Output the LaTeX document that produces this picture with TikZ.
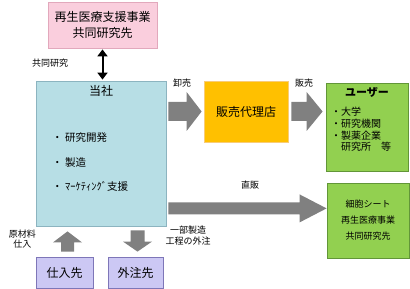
\documentclass[tikz,border=0pt]{standalone}
\usepackage{fontspec}
\setmainfont{Noto Sans CJK JP}
\usetikzlibrary{arrows.meta,calc,positioning}

\definecolor{pinkfill}{RGB}{250,206,221}
\definecolor{pinkline}{RGB}{226,168,188}
\definecolor{tealfill}{RGB}{183,222,229}
\definecolor{tealline}{RGB}{140,180,192}
\definecolor{orangefill}{RGB}{255,192,0}
\definecolor{orangeline}{RGB}{248,204,120}
\definecolor{greenfill}{RGB}{146,208,80}
\definecolor{greenline}{RGB}{98,150,56}
\definecolor{lavfill}{RGB}{204,200,244}
\definecolor{lavline}{RGB}{126,118,184}
\definecolor{arrowgray}{RGB}{128,128,128}

% fat block arrow between two named coordinates:
% #1 start, #2 tip, #3 half shaft, #4 half head, #5 head length
\newcommand{\fatarrow}[5]{%
  \coordinate (fa-base) at ($(#2)!#5!(#1)$);
  \fill[arrowgray]
    ($(#1)!#3!90:(#2)$) -- ($(fa-base)!#3!90:(#2)$) -- ($(fa-base)!#4!90:(#2)$)
    -- (#2) -- ($(fa-base)!#4!-90:(#2)$) -- ($(fa-base)!#3!-90:(#2)$)
    -- ($(#1)!#3!-90:(#2)$) -- cycle;}

\begin{document}
\begin{tikzpicture}[
  x=1pt,
  y=1pt,
  line/.style={line width=0.8pt},
  box/.style={line,draw,inner sep=0pt,align=center},
  big/.style={font=\fontsize{12}{15.5}\selectfont},
  mid/.style={font=\fontsize{10}{11.6}\selectfont},
  small/.style={font=\fontsize{9}{11}\selectfont},
  label/.style={small,inner sep=0pt,align=center}
]
\useasboundingbox (0,0) rectangle (410,289);

% Boxes
\node[box,big,fill=pinkfill,draw=pinkline,minimum width=109,minimum height=46] (collab) at (102.5,264)
  {再生医療支援事業\\共同研究先};
\node[box,fill=tealfill,draw=tealline,minimum width=130,minimum height=145] (tosha) at (101,135.5) {};
\node[box,big,fill=orangefill,draw=orangeline,minimum width=84,minimum height=61] (agent) at (246,177.5)
  {販売代理店};
\node[box,fill=greenfill,draw=greenline,minimum width=82,minimum height=88] (users) at (367,162) {};
\node[box,fill=greenfill,draw=greenline,minimum width=82,minimum height=75,
  font=\fontsize{9}{16}\selectfont] (sheet) at (368,68.5)
  {細胞シート\\再生医療事業\\共同研究先};
\node[box,big,fill=lavfill,draw=lavline,minimum width=57,minimum height=31] (supplier) at (64.5,16.5)
  {仕入先};
\node[box,big,fill=lavfill,draw=lavline,minimum width=55,minimum height=31] (outsource) at (135.5,16.5)
  {外注先};

% Box contents
\node[big,inner sep=0pt,below=5pt of tosha.north] (toshatitle) {当社};
\node[inner sep=0pt,anchor=west,align=left,font=\fontsize{10.5}{24.5}\selectfont] (toshalist) at (52,126.5)
  {・ 研究開発\\・ 製造\\・ ﾏｰｹﾃｨﾝｸﾞ支援};
\node[inner sep=0pt,font=\bfseries\fontsize{11}{13}\selectfont] (userstitle) at (367,197) {ユーザー};
\node[mid,inner sep=0pt,anchor=west,align=left] (userslist) at (331,159.5)
  {・大学\\・研究機関\\・製薬企業\\\phantom{・}研究所　等};

% Joint research link
\draw[line width=2pt,{Triangle[length=7pt,width=10pt]}-{Triangle[length=7pt,width=10pt]},
  shorten <=1pt,shorten >=1pt] (collab.south) -- (collab.south |- tosha.north);
\node[label] (collablabel) at (50,226) {共同研究};

% Sales arrows
\coordinate (whole-s) at ($(tosha.east |- agent.west)+(2,0)$);
\coordinate (whole-e) at ($(agent.west)+(-2,0)$);
\fatarrow{whole-s}{whole-e}{9.5pt}{19.5pt}{15pt}
\node[label] (wholelabel) at (182,206) {卸売};

\coordinate (sell-s) at ($(agent.east)+(3,0)$);
\coordinate (sell-e) at ($(users.west |- agent.east)+(-3,0)$);
\fatarrow{sell-s}{sell-e}{9.5pt}{19.5pt}{16pt}
\node[label] (selllabel) at (304,206) {販売};

\coordinate (direct-s) at ($(tosha.south east)+(2,18)$);
\coordinate (direct-e) at (sheet.west |- direct-s);
\fatarrow{direct-s}{direct-e}{6pt}{14pt}{27pt}
\node[label] (directlabel) at (250,104) {直販};

% Purchase and outsourcing
\coordinate (buy-s) at ($(supplier.north)+(3,5)$);
\coordinate (buy-e) at ($(supplier.north |- tosha.south)+(3,-5)$);
\fatarrow{buy-s}{buy-e}{6.5pt}{14.5pt}{11pt}
\node[label,font=\fontsize{9}{10}\selectfont] (buylabel) at (22.5,50) {原材料\\仕入};

\coordinate (out-s) at ($(outsource.north |- tosha.south)+(2,-4)$);
\coordinate (out-e) at ($(outsource.north)+(2,5)$);
\fatarrow{out-s}{out-e}{7pt}{14.5pt}{10pt}
\node[label] (outlabel) at (188,53.5) {一部製造\\工程の外注};

\end{tikzpicture}
\end{document}
